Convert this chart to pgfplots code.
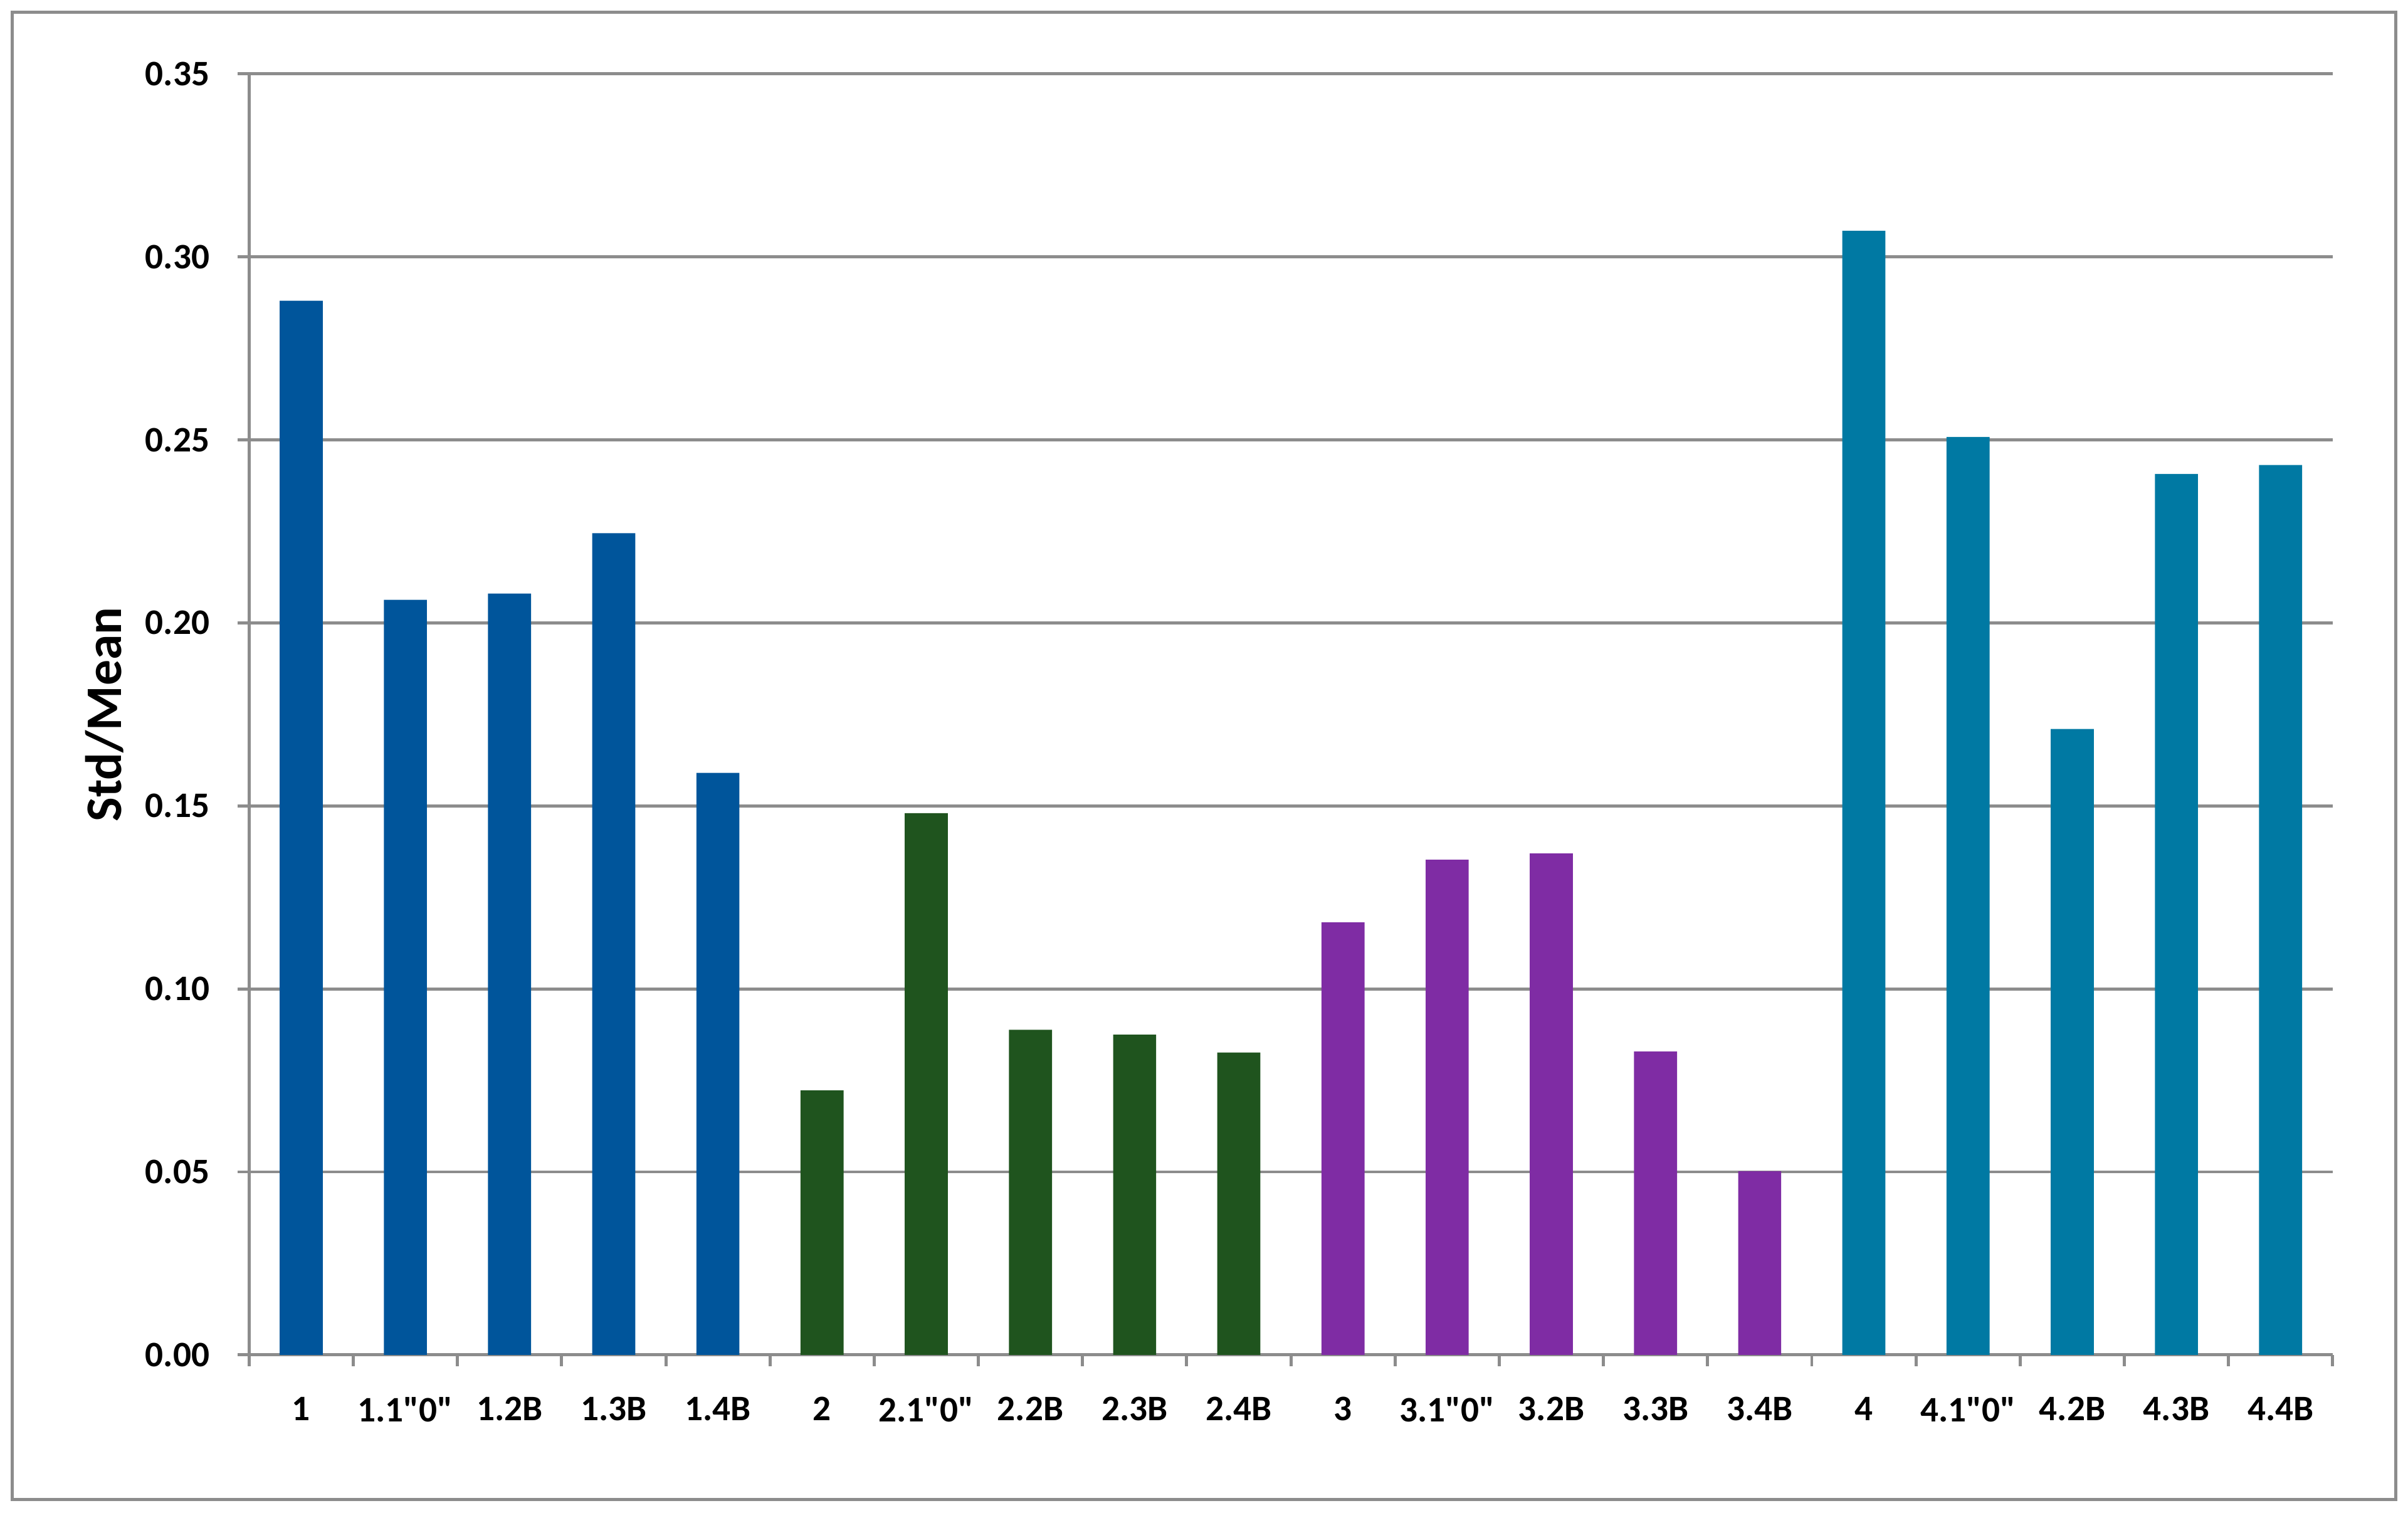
\documentclass[border=0pt]{standalone}
\usepackage{pgfplots}
\pgfplotsset{compat=1.18}
\usepackage{fontspec}
\setmainfont{Carlito}
% plain family without the TeX mapping, so " stays a straight quote
\newfontfamily\labelfont{Carlito}

\definecolor{grp1}{HTML}{00559B}
\definecolor{grp2}{HTML}{1F541E}
\definecolor{grp3}{HTML}{7F2CA4}
\definecolor{grp4}{HTML}{0079A3}
\definecolor{linegray}{HTML}{8C8C8C}

\begin{document}
\begin{tikzpicture}
\begin{axis}[
    scale only axis,
    width=406.5pt,
    height=249.9pt,
    ybar,
    bar width=8.4pt,
    bar shift=0pt,
    xmin=0.5, xmax=20.5,
    ymin=0, ymax=0.35,
    ytick={0,0.05,...,0.35},
    xtick={1,...,20},
    xticklabels={1,{1.1"0"},1.2B,1.3B,1.4B,2,{2.1"0"},2.2B,2.3B,2.4B,3,{3.1"0"},3.2B,3.3B,3.4B,4,{4.1"0"},4.2B,4.3B,4.4B},
    minor xtick={0.5,1.5,...,20.5},
    major x tick style={draw=none},
    minor x tick style={draw=linegray, line width=0.6pt},
    major y tick style={draw=linegray, line width=0.6pt},
    major tick length=2.2pt,
    minor tick length=2.2pt,
    tick align=outside,
    axis x line*=bottom,
    axis y line*=left,
    axis line style={draw=linegray, line width=0.6pt},
    ymajorgrids,
    major grid style={draw=linegray, line width=0.6pt},
    /pgf/number format/fixed,
    /pgf/number format/fixed zerofill,
    /pgf/number format/precision=2,
    /pgf/number format/assume math mode=true,
    ticklabel style={font=\labelfont\bfseries\fontsize{7}{8}\selectfont, text=black},
    xticklabel style={yshift=-2.5pt},
    yticklabel style={xshift=-2pt},
    ylabel={\bfseries Std/Mean},
    every axis y label/.style={at={(axis description cs:-0.0694,0.5)}, rotate=90, anchor=center, font=\fontsize{10}{12}\selectfont},
]
\addplot[fill=grp1, draw=none] coordinates {(1,0.288) (2,0.2063) (3,0.208) (4,0.2245) (5,0.1590)};
\addplot[fill=grp2, draw=none] coordinates {(6,0.0723) (7,0.1480) (8,0.0888) (9,0.0875) (10,0.0826)};
\addplot[fill=grp3, draw=none] coordinates {(11,0.1182) (12,0.1353) (13,0.1370) (14,0.0829) (15,0.0502)};
\addplot[fill=grp4, draw=none] coordinates {(16,0.3071) (17,0.2508) (18,0.1710) (19,0.2407) (20,0.2431)};
\end{axis}
\draw[linegray, line width=0.6pt] ([xshift=-46.2pt,yshift=-28.2pt]current axis.south west) rectangle ([xshift=12.3pt,yshift=12pt]current axis.north east);
\path ([xshift=-48.6pt,yshift=-31.8pt]current axis.south west) rectangle ([xshift=14.7pt,yshift=14.4pt]current axis.north east);
\end{tikzpicture}
\end{document}
